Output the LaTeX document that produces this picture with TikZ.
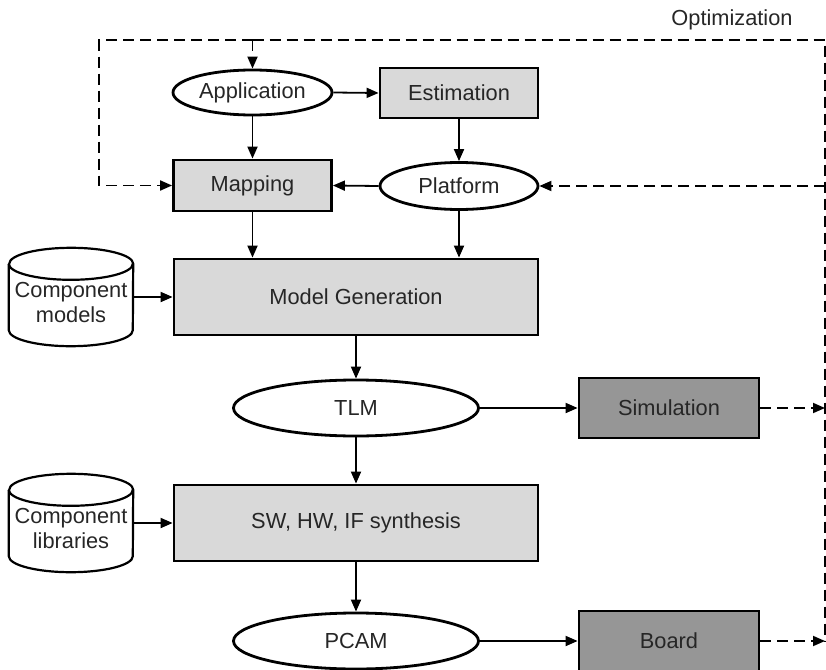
\documentclass[tikz,border=0pt]{standalone}
\usepackage{fontspec}
\setmainfont{Liberation Sans}
\usetikzlibrary{arrows.meta,shapes.geometric}
\definecolor{box-light}{HTML}{D9D9D9}
\definecolor{box-dark}{HTML}{969696}
\definecolor{label-gray}{HTML}{262626}
\tikzset{
    base-shape/.style = {draw=black, line width=2.8bp, inner sep=0pt, text=label-gray, font=\fontsize{21.8bp}{25bp}\selectfont},
    proc-box/.style = {base-shape, rectangle, fill=box-light},
    run-box/.style = {base-shape, rectangle, fill=box-dark, minimum width=180bp, minimum height=60bp},
    data-ellipse/.style = {base-shape, ellipse, fill=white},
    store-cyl/.style = {inner sep=0pt, minimum width=124bp, minimum height=98bp, text=label-gray, font=\fontsize{21.8bp}{25bp}\selectfont},
    cyl-line/.style = {draw=black, line width=2.2bp},
    flow-arrow/.style = {-{Triangle[length=12bp,width=10bp]}, line width=1.8bp},
    opt-line/.style = {line width=1.8bp, dash pattern=on 11bp off 6bp},
    opt-arrow/.style = {flow-arrow, opt-line},
}

\begin{document}
\begin{tikzpicture}[x=1bp, y=-1bp]
\useasboundingbox (0,0) rectangle (826,670);

\node[data-ellipse, minimum width=159bp, minimum height=45bp] (app) at (252.5,92.5) {Application};
\node[proc-box, minimum width=158bp, minimum height=50bp] (est) at (459,93) {Estimation};
\node[proc-box, minimum width=158bp, minimum height=51bp] (map) at (252.5,185.5) {Mapping};
\node[data-ellipse, minimum width=158bp, minimum height=47bp] (plat) at (459,186) {Platform};
\node[proc-box, minimum width=364bp, minimum height=76bp] (gen) at (356,297) {Model Generation};
\node[store-cyl] (cmodels) at (71,297) {\raisebox{0pt}[\dimexpr\height+16bp\relax]{\begin{tabular}{@{}c@{}}Component\\models\end{tabular}}};
\node[data-ellipse, minimum width=245bp, minimum height=56bp] (tlm) at (356,408) {TLM};
\node[run-box] (sim) at (669,408) {Simulation};
\node[proc-box, minimum width=364bp, minimum height=76bp] (synth) at (356,523) {SW, HW, IF synthesis};
\node[store-cyl] (clibs) at (71,523) {\raisebox{0pt}[\dimexpr\height+16bp\relax]{\begin{tabular}{@{}c@{}}Component\\libraries\end{tabular}}};
\node[data-ellipse, minimum width=245bp, minimum height=56bp] (pcam) at (356,641) {PCAM};
\node[run-box] (board) at (669,641) {Board};
\node[text=label-gray, font=\fontsize{21.8bp}{25bp}\selectfont] (opt) at (732,20) {Optimization};

\foreach \cyl in {cmodels, clibs} {
    \draw[cyl-line] ([yshift=-16bp]\cyl.north west) -- ([yshift=16bp]\cyl.south west)
        arc[start angle=180, end angle=360, x radius=62bp, y radius=16bp]
        -- ([yshift=-16bp]\cyl.north east)
        arc[start angle=0, end angle=180, x radius=62bp, y radius=16bp];
    \draw[cyl-line] ([yshift=-16bp]\cyl.north west)
        arc[start angle=180, end angle=360, x radius=62bp, y radius=16bp];
}

\draw[flow-arrow] (app.east) -- (est.west);
\draw[flow-arrow] (app.south) -- (map.north);
\draw[flow-arrow] (est.south) -- (plat.north);
\draw[flow-arrow] (plat.west) -- (map.east);
\draw[flow-arrow] (map.south) -- (map.south |- gen.north);
\draw[flow-arrow] (plat.south) -- (plat.south |- gen.north);
\draw[flow-arrow] (cmodels.east) -- (gen.west);
\draw[flow-arrow] (gen.south) -- (tlm.north);
\draw[flow-arrow] (tlm.east) -- (sim.west);
\draw[flow-arrow] (tlm.south) -- (synth.north);
\draw[flow-arrow] (clibs.east) -- (synth.west);
\draw[flow-arrow] (synth.south) -- (pcam.north);
\draw[flow-arrow] (pcam.east) -- (board.west);

\coordinate (opt-top) at (252.5,40);
\coordinate (opt-left) at (99,40);
\coordinate (opt-right) at (825,40);
\coordinate (opt-low) at (825,641);
\draw[opt-arrow] (opt-top) -- (opt-left) |- (map.west);
\draw[opt-arrow] (opt-top) -- (app.north);
\draw[opt-line] (opt-top) -- (opt-right) -- (opt-low);
\draw[opt-arrow] (opt-right |- plat.east) -- (plat.east);
\draw[opt-arrow] (sim.east) -- (opt-right |- sim.east);
\draw[opt-arrow] (board.east) -- (opt-low);
\end{tikzpicture}
\end{document}
